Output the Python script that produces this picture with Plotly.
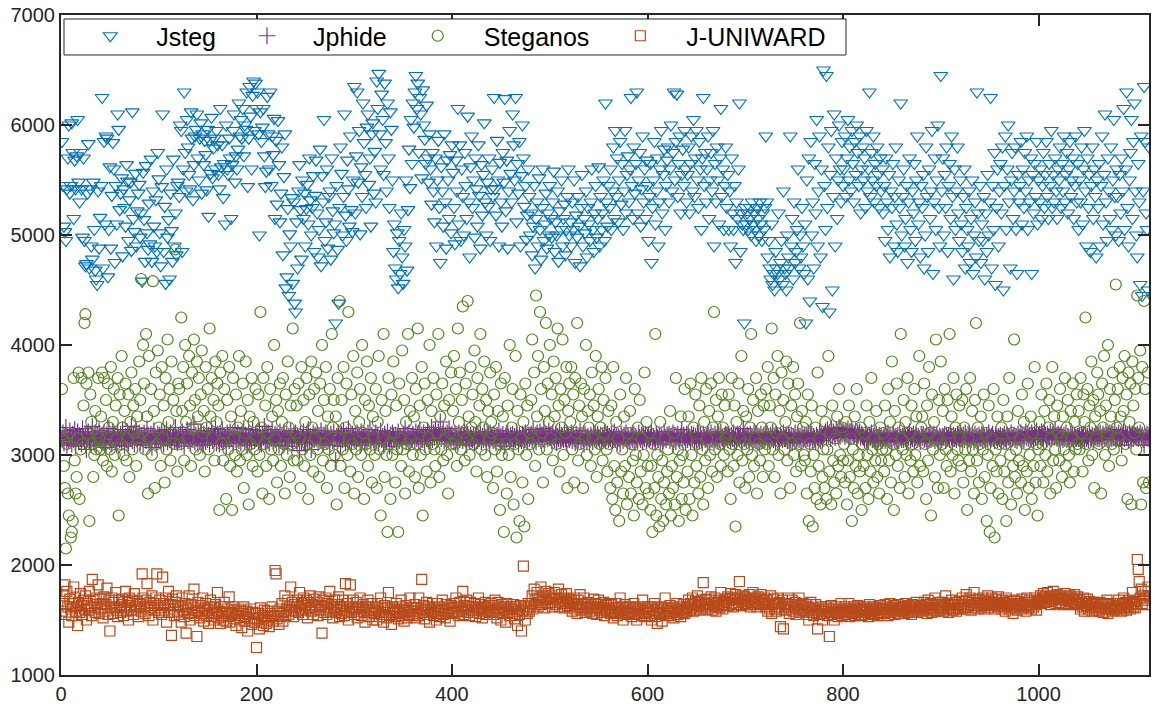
import plotly.graph_objects as go

# Values read (estimated) from the reference picture, one per image index
jsteg = [
5850,5450,5080,5030,4950,5420,5700,6000,5380,5450,6020,5750,5150,5680,5420,5720,6050,5480,5300,5750,
5420,4980,5700,4950,4720,4740,5380,5830,4700,5420,4900,4780,5480,5050,4680,4600,4550,5400,4880,5160,
5450,6250,4700,5850,5100,5900,5880,4620,5050,5620,4880,5360,5840,5600,4750,5450,5100,6100,5960,5230,
5380,5520,4810,5420,5250,5080,5640,5490,4950,5320,5480,4860,6120,5150,5030,5560,4900,5220,5380,5460,
4980,5200,4580,5570,5140,4760,5630,5020,4870,5290,4920,5690,4760,5400,5080,4900,5320,4850,5750,5510,
5020,4720,5440,6100,4850,5260,4560,5600,4980,5140,4600,5380,5040,4760,5690,4900,5200,4820,5450,5480,
5350,6000,5950,4850,5600,6300,5750,5400,6050,5800,5550,5420,6120,5880,5320,5640,5900,5960,6100,5700,
5500,5880,6020,5380,5920,5640,5860,5730,5410,5960,5170,5860,5560,6070,5520,5790,5880,5600,5950,5820,
5550,5420,6150,5620,5820,5340,5650,5100,6000,5600,5550,5880,5700,5150,5640,5950,6100,5480,5720,5600,
5780,6200,5900,6050,5880,6150,5720,6000,5960,6300,5440,5880,6350,6080,5600,6270,6400,5950,6380,6150,
6300,5920,5000,6120,5850,5980,6150,5720,5440,5580,6260,5920,5600,6300,5450,5900,5730,6060,5150,5860,
5280,6040,5640,5120,5380,5800,4820,5530,5920,4520,4620,5240,4450,5010,4900,5340,4560,5300,4380,4300,
5120,4700,5400,5640,5230,4780,5500,5150,5380,4900,5240,5460,5100,5700,5320,5000,5250,5540,4850,5360,
5680,5200,4800,5050,5780,4720,5540,5300,6050,4950,5120,5600,4880,5350,5400,4780,5700,5220,5020,5100,
4200,5450,4870,4380,5250,5800,5560,5000,5350,6100,5180,4950,5680,5420,5080,5900,5230,5030,5500,6350,
5200,5720,6300,5480,5950,5010,5620,5350,6200,5840,5550,5250,5980,6100,5460,5700,5080,5920,6020,5380,
5760,5300,6400,6150,6470,5920,5600,6280,6050,5550,6380,5840,5400,6200,5700,5250,6120,5960,5500,4850,
5100,4700,4600,5020,4520,4950,4650,5200,4800,4560,5050,4900,5500,4680,5230,5780,5430,6050,5650,6200,
5980,6300,6450,6150,6380,5750,6250,6100,5520,6320,6000,5870,5650,6180,5700,5480,5920,5600,5280,5750,
5400,5120,5700,4900,5500,5860,5250,4750,5620,5400,5080,5920,5300,4880,5680,5500,5150,5730,5020,5820,
5570,5250,4920,5680,5400,6150,5100,5820,4950,5600,5350,5000,5750,5450,5150,6080,5300,4800,5620,5900,
5250,5500,4980,5700,5420,5080,5820,5360,4880,5640,5180,5550,6020,5300,5000,5480,5260,5700,4950,5420,
5600,5350,6250,5420,5180,5860,5500,4900,5660,5300,5080,5750,5480,6240,5220,5680,4880,5400,5950,5560,
5300,6100,5820,5500,6250,5120,5650,5380,5850,4900,5540,6000,5700,5260,5450,4960,5180,5600,5350,5000,
5200,4820,5080,5450,4700,5150,5300,4900,5520,5050,4780,5250,5600,4950,5100,5380,4880,5200,5000,5450,
5150,4980,5300,5580,4850,5120,5000,5400,4760,5220,5050,5500,4900,5150,5280,4820,5050,5350,5600,5000,
5120,4900,5300,5050,5500,4750,5180,4980,5350,5080,4720,5250,5550,4900,5150,5020,5400,4800,5250,5100,
4950,5300,5600,5050,4850,5200,5450,4980,5150,5620,4900,5350,5050,5200,5500,4950,6200,5300,5080,5450,
5250,5600,5050,5400,5800,5150,5950,5350,5700,5120,5500,5850,5280,5650,5050,5400,5950,5200,5550,5720,
5300,5600,6250,5450,5150,5800,5380,5650,6300,5200,5500,5750,5080,5420,5900,5300,5600,5150,5680,5450,
4950,5350,5650,4750,5250,5500,5850,5100,5400,5700,4900,5300,5600,5950,5200,5550,5780,5050,5450,5680,
5800,5300,5600,6000,5400,5750,6300,5500,5850,6280,5350,5650,5900,5200,5550,5780,5450,5950,5600,5300,
5550,5800,5200,5650,5900,5400,6050,5350,5700,5950,5500,5250,5850,5600,5050,5700,6250,5450,5750,5300,
5600,5900,5150,5500,5750,5400,5950,4900,5650,5300,5800,5500,5100,5700,6150,5350,5600,5050,5450,5800,
5250,5550,5050,5400,4900,5700,5200,5050,5450,4750,5300,5150,5600,6200,4850,5200,5100,5050,4200,5250,
5100,5200,5050,5150,5250,5000,5300,5100,5200,5050,4950,5250,5150,5000,5300,5100,4950,5200,5050,5250,
5900,5300,4800,4950,4700,4600,5100,4550,4650,4500,4850,4700,4650,5200,4600,4750,4950,4550,5400,4700,
4650,4500,5000,4800,4700,5900,4900,5150,4600,5300,4750,4850,5050,5600,4700,5000,4800,5250,4900,4650,
5100,4200,5500,4600,5700,4400,5850,5000,5300,4700,5650,5200,6050,4900,5400,5900,4800,5600,4350,6500,
5450,5050,6450,5250,5800,4300,5550,5950,4500,5350,6100,4900,5700,5150,5500,6000,5600,5300,5850,5450,
5600,5900,5350,5700,6050,5500,5800,5400,5950,5650,5300,5850,5550,6000,5750,5450,5900,5200,5600,5800,
5500,5700,5250,5950,5400,5600,6300,5350,5750,5500,5900,5300,5650,5450,5800,5550,5250,5700,5400,5600,
5200,5450,4950,5700,5300,5050,5550,4800,5400,5250,5650,4900,5350,5800,5100,4850,5500,5250,6200,5000,
5350,5600,4900,5150,5450,4750,5300,5700,5050,4850,5400,5200,5650,4950,5500,5900,5100,5300,4800,5450,
5250,5550,4700,5000,5800,5350,4850,5600,5150,5400,5950,4650,5300,5700,5050,5500,6000,5250,4900,6450,
5400,5700,5000,5550,5250,5800,4850,5450,5650,5150,5900,5350,4600,5600,5050,5400,5800,5200,4950,5500,
5100,4850,5350,5600,4700,5250,5050,4900,5400,4750,5150,5500,4650,5000,5300,4800,6300,5200,4950,5450,
4750,5100,4950,5350,4600,5200,4850,5550,5000,5300,6250,4700,5450,5050,5750,4550,5250,5600,4900,5400,
5650,5200,5800,4500,5450,5900,5050,5600,6000,5300,4700,5500,5750,5150,5400,5800,5050,4650,5550,5300,
5450,5850,5100,5600,5250,5750,5400,5900,5050,5500,5300,5700,4650,5550,5200,5650,5350,5850,5100,5500,
5300,5600,5150,5450,5750,5250,5550,5850,5350,5150,5650,5450,5950,5250,5550,5300,5700,5400,5150,5600,
5500,5800,5250,5650,5400,5900,5300,5550,5750,5200,5600,5850,5350,5500,5700,5150,5450,5900,5300,5650,
5050,5500,5300,5800,5100,5600,5950,5400,4900,5700,5250,5550,4850,5450,5800,5150,5600,5350,4800,5500,
5250,5650,4900,5450,5900,5100,5550,6100,5300,4950,5700,5400,5150,5800,5050,5500,6050,5350,5000,5600,
5350,4950,5550,5200,5700,5400,6150,5050,5600,6300,5250,4900,5500,5750,6050,5150,5850,6200,5400,5000,
4800,5650,5300,4550,5900,4450,5400,6350,5850,5200,5050,4500,5800,
]

jphide = [
3150,3200,3110,3180,3250,3090,3160,3130,3220,3170,3100,3190,3140,3230,3080,3160,3210,3120,3175,3150,
3100,3240,3160,3130,3190,3050,3170,3210,3140,3100,3180,3260,3120,3150,3200,3090,3170,3140,3220,3160,
3130,3180,3110,3200,3150,3070,3190,3160,3240,3120,3170,3100,3210,3150,3180,3130,3090,3200,3160,3140,
3190,3120,3230,3160,3080,3170,3140,3210,3110,3180,3150,3260,3130,3190,3100,3170,3220,3140,3160,3200,
3120,3170,3150,3090,3200,3160,3130,3240,3180,3110,3150,3190,3070,3170,3220,3140,3160,3100,3190,3150,
3180,3130,3210,3160,3100,3190,3150,3230,3120,3170,3140,3200,3090,3160,3180,3130,3250,3150,3110,3170,
3140,3190,3120,3210,3160,3080,3180,3150,3230,3130,3170,3110,3200,3160,3140,3280,3120,3180,3150,3100,
3170,3130,3200,3150,3090,3190,3160,3120,3220,3140,3180,3100,3160,3210,3130,3170,3150,3240,3110,3190,
3160,3100,3190,3140,3230,3120,3170,3150,3080,3200,3160,3130,3210,3150,3180,3110,3170,3250,3140,3160,
3200,3130,3170,3110,3190,3150,3240,3120,3180,3160,3090,3200,3140,3170,3120,3230,3160,3130,3190,3150,
3170,3120,3220,3150,3100,3190,3160,3260,3130,3180,3140,3200,3110,3170,3150,3230,3120,3160,3190,3140,
3180,3150,3090,3210,3140,3170,3120,3200,3160,3130,3190,3080,3170,3150,3220,3140,3110,3180,3160,3200,
3130,3170,3150,3040,3190,3120,3160,3210,3140,3100,3180,3150,3230,3120,3170,3050,3160,3200,3140,3180,
3150,3190,3110,3170,3130,3220,3160,3100,3180,3140,3200,3120,3170,3150,3090,3190,3160,3130,3210,3150,
2950,3170,3130,3200,3150,3080,3190,3140,3220,3160,3110,3180,3150,3240,3130,3170,3100,3190,3160,3140,
3180,3120,3200,3150,3170,3090,3210,3140,3160,3190,3130,3170,3110,3200,3150,3230,3120,3180,3160,3140,
3160,3200,3130,3180,3110,3150,3220,3140,3170,3100,3190,3160,3130,3210,3150,3080,3180,3140,3200,3170,
3140,3180,3120,3160,3210,3130,3170,3150,3100,3190,3160,3240,3120,3180,3150,3200,3110,3170,3140,3190,
3170,3130,3210,3150,3190,3120,3230,3160,3180,3140,3200,3100,3170,3150,3220,3130,3190,3160,3250,3140,
3200,3160,3230,3180,3140,3210,3170,3300,3150,3190,3220,3130,3180,3160,3200,3140,3240,3170,3150,3190,
3160,3120,3190,3150,3170,3100,3200,3140,3160,3180,3130,3170,3210,3150,3090,3190,3160,3130,3180,3150,
3140,3180,3110,3170,3200,3130,3160,3150,3190,3120,3170,3140,3210,3160,3100,3180,3150,3130,3200,3160,
3170,3130,3190,3150,3110,3180,3160,3220,3140,3170,3120,3190,3150,3080,3170,3140,3200,3160,3130,3180,
3150,3190,3120,3170,3140,3210,3160,3100,3180,3150,3130,3190,3170,3140,3200,3160,3120,3180,3150,3170,
3190,3140,3230,3160,3180,3120,3200,3170,3150,3210,3130,3180,3160,3240,3140,3190,3170,3150,3220,3160,
3180,3130,3200,3160,3140,3190,3110,3170,3150,3210,3130,3180,3160,3140,3200,3150,3120,3190,3170,3140,
3160,3200,3130,3180,3150,3110,3190,3160,3140,3170,3220,3130,3180,3150,3100,3190,3160,3130,3170,3150,
3140,3180,3160,3120,3200,3150,3170,3130,3190,3160,3140,3180,3110,3170,3150,3200,3130,3160,3190,3140,
3170,3150,3190,3130,3160,3210,3140,3180,3120,3170,3150,3100,3190,3160,3130,3180,3150,3200,3140,3170,
3150,3120,3180,3160,3140,3190,3110,3170,3150,3130,3200,3160,3140,3180,3120,3170,3150,3190,3130,3160,
3180,3140,3160,3200,3130,3170,3150,3120,3190,3160,3140,3180,3100,3170,3150,3130,3210,3160,3140,3180,
3160,3190,3130,3170,3150,3200,3140,3180,3120,3160,3190,3150,3130,3170,3230,3140,3180,3160,3120,3190,
3140,3170,3160,3130,3190,3150,3180,3120,3170,3140,3200,3160,3130,3180,3150,3110,3190,3160,3140,3170,
3150,3180,3130,3160,3200,3140,3170,3120,3190,3150,3160,3130,3180,3140,3210,3160,3150,3120,3170,3190,
3170,3140,3190,3160,3130,3180,3150,3200,3140,3170,3120,3190,3160,3150,3180,3130,3170,3240,3150,3160,
3140,3180,3160,3120,3190,3150,3170,3130,3200,3160,3140,3180,3110,3170,3150,3190,3130,3160,3180,3140,
3160,3190,3140,3170,3130,3180,3150,3210,3140,3160,3120,3190,3170,3150,3130,3180,3160,3140,3200,3150,
3150,3170,3130,3190,3160,3140,3180,3110,3170,3150,3200,3130,3160,3180,3140,3170,3120,3190,3150,3160,
3180,3140,3170,3150,3200,3130,3160,3190,3140,3170,3150,3120,3180,3160,3140,3200,3130,3170,3150,3180,
3190,3210,3160,3230,3180,3200,3150,3240,3170,3210,3190,3160,3230,3200,3180,3250,3170,3210,3190,3220,
3200,3170,3220,3190,3240,3160,3210,3180,3230,3200,3170,3190,3220,3150,3200,3180,3210,3160,3190,3170,
3160,3140,3190,3150,3170,3130,3180,3160,3200,3140,3170,3150,3120,3190,3160,3140,3180,3150,3170,3130,
3150,3180,3130,3170,3160,3200,3140,3180,3150,3120,3190,3160,3140,3170,3150,3180,3130,3200,3160,3140,
3170,3140,3190,3150,3130,3180,3160,3210,3140,3170,3150,3190,3130,3160,3180,3140,3170,3150,3120,3190,
3160,3190,3140,3170,3150,3130,3180,3160,3200,3140,3170,3150,3190,3130,3160,3180,3150,3140,3170,3160,
3140,3170,3160,3190,3130,3180,3150,3170,3140,3200,3160,3130,3180,3150,3170,3140,3190,3160,3150,3180,
3170,3150,3180,3140,3200,3160,3130,3190,3150,3170,3140,3180,3160,3120,3190,3150,3170,3140,3180,3160,
3150,3190,3140,3170,3160,3130,3180,3150,3200,3160,3140,3170,3190,3150,3130,3180,3160,3140,3170,3150,
3180,3140,3170,3160,3190,3150,3130,3180,3160,3170,3140,3200,3150,3160,3180,3140,3170,3130,3190,3160,
3160,3200,3150,3180,3140,3170,3210,3160,3190,3150,3180,3140,3200,3170,3150,3190,3160,3220,3140,3180,
3190,3160,3210,3170,3150,3200,3180,3140,3190,3170,3160,3210,3150,3180,3200,3160,3230,3170,3150,3190,
3170,3150,3190,3160,3140,3180,3150,3200,3140,3170,3160,3130,3190,3150,3170,3140,3180,3160,3150,3170,
3150,3180,3140,3170,3160,3190,3130,3180,3150,3170,3140,3200,3160,3150,3180,3130,3170,3160,3190,3150,
3180,3150,3200,3160,3140,3190,3170,3150,3210,3160,3180,3140,3200,3170,3150,3190,3160,3230,3150,3180,
3160,3200,3150,3180,3090,3170,3210,3150,3190,3160,3180,3140,3200,3170,3160,3190,3150,3180,3170,3160,
3190,3150,3170,3200,3160,3180,3140,3090,3170,3160,3190,3150,3180,
]

steganos = [
3600,3150,2900,2700,2150,3100,2650,2450,3200,2250,2300,2400,3700,2950,2650,2800,3150,3750,2600,3050,
3700,3100,3450,4200,4280,3650,3200,3750,2400,3550,3300,3100,2800,3000,3400,3050,3200,3700,3150,3050,
3350,3750,2950,3700,3100,3500,2900,3650,3250,3050,3800,2850,3300,3600,3000,3450,3150,3700,2450,3550,
3100,3900,3250,3000,3400,3650,2950,3150,3550,2800,3300,3750,3050,3450,3200,3600,2900,3350,3150,3850,
3500,4600,3200,4000,3650,3050,4100,3350,2650,3900,3150,3600,3000,4580,3400,2700,3750,3100,3950,3250,
3550,2900,3800,3150,3450,2750,3700,3050,4050,3300,3600,2950,3850,3200,3500,3100,4870,3400,2850,3650,
3600,3100,4250,3400,3800,2950,4000,3300,3650,3150,3900,3450,2900,3750,3250,4050,3500,3050,3850,3350,
3700,3000,3550,3950,3200,3400,2850,3800,3250,3600,3050,4150,3350,3700,3150,3500,2950,3850,3300,3650,
3450,2500,3750,3100,3900,2950,3600,3200,2600,3500,3050,3800,2900,3350,2500,3700,3150,3000,3550,2850,
3250,3900,2950,3400,3050,3650,2700,3200,3850,3000,3500,2550,3350,3100,3700,2900,3300,3050,3600,3150,
2850,3550,3000,4300,3250,2650,3700,3100,3450,2900,3800,3200,2600,3600,3050,3350,2950,4000,3150,3500,
2750,3400,3050,3650,2900,3300,3700,3100,2650,3550,3000,3850,3250,2800,3450,3100,4150,2950,3600,3200,
3450,2950,3650,3150,2700,3800,3050,3500,2900,3300,3700,3100,2600,3550,3000,3850,3250,2850,3600,3150,
3750,3050,3400,2800,3650,3200,4000,2950,3500,3100,3800,2700,3350,3050,3600,2900,4100,3250,3500,3000,
3350,2550,3700,3150,4400,2900,3500,3050,3800,2700,3250,3650,3000,4300,3150,2850,3550,3100,3900,2650,
3400,3050,3750,2800,3300,3600,3000,4000,3200,2600,3500,3100,3850,2900,3450,3050,3700,2750,3350,3150,
3000,3600,2700,3300,3900,3050,2450,3500,3150,4100,2800,3400,3000,2300,3700,3100,2600,3550,3000,3850,
3200,2750,3450,3050,2300,3650,3150,2900,3950,3050,3500,2650,3300,3100,4100,2850,3400,3150,3700,3000,
3350,2800,3600,3100,4150,2700,3450,3000,3800,2450,3250,3650,3050,2850,3500,3150,4000,2750,3400,3100,
3700,3050,2900,3550,3200,4100,2800,3350,3050,3650,2950,3450,3150,3850,3000,2650,3500,3200,3750,3100,
3400,3900,3100,3600,2900,4150,3300,3750,3050,3500,4350,3200,2950,3650,3150,4400,3350,3000,3800,3250,
3550,3100,3950,3300,2850,3700,3150,3450,4100,3050,3600,3250,3850,3000,3500,2800,3400,3150,3750,3300,
3200,2700,3550,3050,3800,2850,3400,3100,2500,3650,3000,3350,2300,3700,3100,2650,3450,3000,4000,2800,
3250,3600,2550,3100,3900,2250,3400,3050,2400,3550,3150,2750,3300,2350,3650,3000,3450,2600,3200,3100,
3500,4050,3150,3750,2900,4450,3350,3900,3050,4300,3600,3200,2750,3800,3400,4200,3050,3650,3300,4000,
3150,3550,2950,3850,3350,3700,3100,4150,3450,2850,3600,3250,4050,3000,3500,3200,3800,2700,3400,3650,
3300,3800,3050,3550,2750,3700,3200,4200,2950,3450,3100,3650,3350,2700,3600,3150,4000,3000,3400,3250,
3550,2900,3750,3150,3450,3050,3900,2800,3350,3600,3100,3250,3800,2950,3500,3200,3700,3050,2850,3400,
3100,2700,3450,2600,3800,2900,2500,3300,2750,3150,2400,3550,2850,3050,2650,3350,2900,3700,2550,3200,
2800,3400,2650,3100,2950,2450,3600,3000,2750,3250,2600,3500,2850,3150,2550,3000,3750,2700,3300,2900,
2650,3200,2500,2900,2300,3100,2700,4100,2450,3000,2800,2350,3300,2600,2950,2400,2750,3150,2550,2850,
3050,2650,3400,2450,2900,2700,3200,2550,3700,2800,3050,2400,2950,3350,2600,3000,2750,3600,2500,3150,
2850,3350,2600,3650,3000,2450,3250,2750,3550,2900,3100,2650,3450,2800,3700,3050,2550,3300,2950,3600,
3150,2700,3400,3000,3650,2850,3250,4300,3050,3500,2800,3350,3700,3100,2900,3550,3250,3000,3450,3150,
3200,2850,3550,3050,2600,3700,3100,2900,3450,2350,3300,3000,3650,2750,3150,3900,2950,3400,3100,2700,
3350,3050,3600,2800,3250,4100,3000,3500,2900,3150,3700,2650,3400,3100,2950,3550,3250,2800,3450,3050,
3600,3100,3800,2900,3450,3250,4150,3050,3700,2800,3550,3200,3900,3000,3400,2650,3750,3150,3500,3050,
3300,3850,2950,3650,3200,2700,3450,3100,3800,3000,3550,2850,3350,3650,3100,4200,2900,3400,3250,3000,
2950,3300,2650,3550,2400,3100,2850,3450,2350,3000,2700,3250,2600,3750,2900,3150,2550,3400,2800,3050,
2700,3300,2600,3050,3900,2850,3200,2550,3450,2950,2750,3150,2650,3350,2900,3600,3000,2800,3250,2950,
3100,2750,3300,2550,2950,3450,2800,3150,2400,3050,2700,3350,2900,3600,2650,3000,2850,3250,2500,3100,
2900,3200,2700,3450,3000,2600,3300,2850,3700,3050,2750,3150,2950,3400,2800,3100,2650,3250,2950,3050,
3200,2850,3450,3050,2600,3600,2950,3300,2750,3850,3100,2500,3400,3000,3650,2900,3250,2700,4100,3150,
3050,3500,2800,3300,3000,3700,2650,3200,2950,3450,3100,2850,3600,3000,3350,2750,3150,3900,2900,3250,
3350,2850,3650,3100,2600,3450,2950,3800,3200,2450,3550,3050,3300,2800,4050,3150,2700,3500,3000,3850,
3100,3400,2700,3600,3050,2900,3500,3200,4100,2850,3350,3000,3700,2650,3250,3550,3050,2950,3450,3150,
2900,3500,2750,3250,3050,3600,2500,3150,2950,3700,2850,3400,3050,2650,3500,4200,2950,3250,2750,3100,
3350,2600,3050,3550,2800,3200,2400,3000,3450,2300,2700,3150,2900,3600,2250,3050,2850,3350,2650,3100,
2950,3250,2600,3500,2850,3100,2400,3350,2750,3700,3000,2550,3200,2900,4050,2800,3050,2650,3400,2950,
3150,2750,3550,2900,3300,2500,3100,2850,3650,2700,3000,3350,2600,3200,2900,3800,2750,3100,2450,3050,
3300,2900,3550,3100,2750,3400,3000,3650,2850,3250,3500,2650,3150,3800,2950,3350,3050,2700,3450,3200,
2950,3600,3150,2800,3350,3050,3700,2900,3250,3500,3000,2750,3400,3150,3650,2850,3300,3050,3550,3100,
3400,3050,3700,3200,2850,3550,3300,4250,3100,3600,2950,3450,3250,3850,3000,3500,2700,3350,3150,3750,
3550,3100,3400,2650,3650,3250,3900,3000,3450,3200,4000,2900,3600,3350,3100,3750,3050,3500,4550,3250,
3600,3150,3800,3350,2950,3700,3400,3900,3100,3550,2600,3750,3300,3650,2550,3850,3450,3200,3600,3050,
4450,3700,3250,3950,2550,3800,2750,4400,3600,2700,3150,3750,2750,
]

juniward = [
1580,1720,1650,1820,1550,1760,1620,1480,1690,1600,1540,1650,1800,1700,1580,1620,1450,1660,1570,1740,
1630,1550,1680,1600,1720,1500,1650,1590,1760,1610,1540,1870,1680,1620,1570,1700,1640,1820,1560,1690,
1600,1650,1520,1710,1580,1640,1790,1550,1680,1400,1620,1700,1560,1660,1610,1750,1590,1530,1680,1620,
1570,1640,1690,1540,1610,1760,1580,1660,1500,1700,1630,1590,1680,1550,1740,1620,1600,1670,1530,1650,
1640,1580,1920,1700,1620,1560,1680,1830,1600,1540,1660,1610,1720,1500,1650,1590,1700,1920,1630,1570,
1680,1610,1550,1890,1650,1590,1700,1480,1630,1760,1570,1640,1360,1690,1600,1540,1660,1720,1580,1630,
1550,1620,1480,1700,1590,1530,1650,1380,1600,1560,1720,1500,1640,1570,1610,1780,1540,1590,1350,1660,
1580,1520,1630,1560,1700,1490,1600,1650,1540,1590,1470,1620,1680,1530,1570,1610,1500,1640,1560,1750,
1520,1580,1470,1620,1540,1500,1660,1560,1490,1600,1530,1710,1480,1570,1550,1620,1510,1590,1450,1560,
1540,1600,1500,1580,1430,1560,1620,1490,1530,1580,1400,1550,1510,1600,1460,1570,1520,1480,1560,1250,
1500,1560,1420,1610,1480,1540,1450,1590,1520,1470,1580,1500,1440,1560,1530,1620,1490,1540,1950,1920,
1510,1580,1460,1600,1530,1650,1490,1570,1720,1540,1600,1680,1550,1620,1800,1590,1660,1530,1640,1580,
1620,1680,1570,1750,1600,1650,1550,1700,1630,1590,1680,1520,1660,1610,1720,1580,1640,1550,1690,1620,
1600,1660,1540,1710,1590,1630,1380,1680,1570,1620,1700,1550,1650,1600,1760,1580,1640,1520,1610,1680,
1570,1640,1590,1710,1530,1620,1560,1680,1600,1540,1830,1580,1650,1500,1620,1820,1570,1610,1680,1550,
1600,1660,1520,1620,1580,1700,1540,1600,1640,1570,1480,1620,1590,1680,1530,1610,1570,1650,1500,1590,
1560,1620,1500,1650,1580,1530,1700,1550,1600,1480,1630,1570,1520,1610,1750,1540,1590,1460,1620,1570,
1600,1530,1650,1580,1510,1620,1560,1680,1540,1600,1490,1570,1630,1520,1590,1550,1700,1580,1610,1540,
1580,1640,1520,1610,1560,1700,1540,1600,1870,1570,1630,1510,1590,1660,1550,1620,1480,1600,1570,1650,
1540,1610,1580,1500,1650,1560,1620,1530,1590,1680,1550,1600,1520,1640,1580,1560,1610,1490,1630,1570,
1600,1650,1560,1700,1580,1620,1540,1660,1600,1580,1760,1550,1630,1600,1680,1570,1620,1540,1660,1590,
1620,1570,1650,1530,1610,1590,1700,1560,1640,1600,1520,1620,1580,1660,1550,1610,1590,1630,1570,1650,
1580,1630,1550,1680,1600,1520,1660,1570,1610,1500,1640,1560,1620,1590,1480,1650,1570,1600,1540,1620,
1600,1560,1640,1510,1620,1580,1450,1600,1550,1630,1400,1580,1990,1620,1500,1600,1560,1650,1580,1620,
1650,1720,1600,1780,1680,1640,1750,1620,1700,1660,1800,1640,1720,1680,1610,1760,1690,1650,1740,1700,
1660,1720,1620,1690,1750,1640,1700,1660,1780,1620,1680,1730,1650,1700,1610,1670,1740,1630,1690,1660,
1620,1680,1580,1650,1700,1600,1640,1560,1680,1620,1730,1590,1650,1610,1700,1570,1640,1600,1660,1620,
1580,1640,1600,1560,1690,1610,1650,1550,1620,1680,1590,1640,1570,1610,1660,1540,1600,1630,1580,1650,
1600,1560,1640,1580,1520,1610,1570,1650,1540,1600,1580,1700,1560,1620,1500,1590,1640,1550,1610,1570,
1560,1620,1580,1530,1600,1650,1550,1610,1500,1580,1620,1560,1600,1540,1680,1570,1530,1600,1560,1620,
1580,1540,1620,1500,1600,1560,1650,1530,1590,1470,1610,1570,1550,1620,1490,1600,1560,1700,1540,1580,
1600,1560,1630,1540,1580,1610,1520,1600,1570,1650,1550,1590,1620,1530,1600,1570,1640,1560,1600,1580,
1620,1680,1590,1650,1610,1700,1580,1640,1670,1600,1720,1630,1660,1590,1680,1620,1840,1650,1600,1690,
1640,1600,1680,1620,1710,1590,1660,1630,1700,1580,1650,1620,1680,1610,1750,1640,1600,1670,1630,1690,
1660,1710,1630,1690,1740,1650,1700,1620,1680,1730,1640,1700,1660,1850,1690,1630,1720,1670,1710,1650,
1700,1640,1680,1730,1620,1690,1660,1750,1640,1700,1670,1620,1710,1650,1690,1730,1640,1680,1660,1700,
1620,1680,1580,1650,1600,1720,1560,1640,1690,1600,1650,1580,1700,1620,1660,1440,1600,1680,1420,1640,
1590,1650,1620,1700,1560,1640,1600,1680,1580,1620,1660,1550,1640,1600,1700,1570,1630,1590,1650,1610,
1580,1640,1550,1620,1500,1600,1660,1570,1610,1540,1590,1640,1560,1420,1600,1550,1620,1580,1500,1600,
1560,1620,1580,1540,1600,1350,1570,1630,1550,1600,1500,1580,1620,1560,1530,1600,1570,1650,1540,1590,
1580,1620,1550,1600,1570,1650,1530,1600,1580,1560,1620,1540,1600,1570,1630,1550,1590,1610,1540,1600,
1570,1620,1550,1600,1580,1530,1640,1560,1600,1580,1620,1550,1590,1610,1540,1600,1570,1630,1560,1600,
1600,1560,1640,1580,1620,1540,1600,1650,1570,1610,1590,1630,1550,1600,1580,1640,1560,1610,1590,1620,
1580,1620,1560,1650,1600,1570,1630,1590,1610,1550,1640,1580,1620,1600,1660,1570,1610,1590,1630,1600,
1620,1580,1660,1600,1640,1560,1680,1610,1590,1650,1570,1630,1600,1700,1580,1640,1610,1660,1590,1620,
1600,1660,1580,1640,1720,1600,1650,1570,1630,1610,1680,1590,1640,1600,1660,1580,1630,1610,1670,1600,
1640,1700,1610,1670,1600,1730,1620,1680,1640,1700,1590,1660,1630,1750,1610,1680,1650,1600,1690,1630,
1660,1620,1700,1640,1600,1680,1650,1720,1610,1670,1630,1700,1640,1660,1600,1690,1640,1620,1710,1650,
1640,1600,1680,1620,1660,1580,1700,1630,1650,1600,1670,1620,1640,1560,1680,1610,1650,1590,1670,1630,
1650,1600,1690,1620,1640,1660,1580,1700,1630,1610,1680,1640,1600,1660,1620,1700,1640,1590,1670,1650,
1680,1720,1650,1700,1740,1660,1710,1690,1750,1670,1700,1640,1720,1680,1760,1690,1710,1650,1730,1700,
1660,1720,1690,1640,1700,1680,1740,1650,1710,1690,1670,1720,1640,1700,1680,1660,1730,1650,1690,1710,
1640,1680,1600,1660,1620,1700,1580,1650,1630,1690,1600,1670,1620,1640,1580,1660,1610,1650,1590,1640,
1620,1580,1660,1600,1640,1570,1650,1610,1600,1680,1560,1640,1600,1620,1580,1650,1610,1590,1630,1600,
1620,1680,1600,1650,1580,1640,1700,1610,1660,1590,1640,1620,1680,1600,1650,1750,1620,1670,1610,1640,
2050,1960,1850,1700,1780,1650,1720,1680,1760,1700,1640,1800,1720,
]

series_names = ["Jsteg", "Jphide", "Steganos", "J-UNIWARD"]
x_ticks = [0, 200, 400, 600, 800, 1000]
y_ticks = [1000, 2000, 3000, 4000, 5000, 6000, 7000]

FONT = "Liberation Sans, Arial, sans-serif"
AX = "#262626"

specs = [
    (jsteg, series_names[0], "#0072BD", "triangle-down-open", 12),
    (jphide, series_names[1], "#7E2F8E", "cross-thin-open", 12),
    (steganos, series_names[2], "#4F8516", "circle-open", 11),
    (juniward, series_names[3], "#B84A1A", "square-open", 10),
]

fig = go.Figure()
for vals, name, color, sym, size in specs:
    fig.add_trace(go.Scatter(
        x=list(range(1, len(vals) + 1)), y=vals, mode="markers", name=name,
        marker=dict(symbol=sym, size=size, color=color, line=dict(color=color, width=1.2)),
    ))

axis_common = dict(
    showgrid=False, zeroline=False, showline=True, linecolor=AX, linewidth=2,
    mirror="ticks", ticks="inside", ticklen=11, tickwidth=2, tickcolor=AX,
    tickfont=dict(family=FONT, size=20, color=AX), automargin=False,
)
fig.update_xaxes(range=[0, 1113], tickvals=x_ticks, **axis_common)
fig.update_yaxes(range=[1000, 7000], tickvals=y_ticks, **axis_common)

# legend frame (white box with thin border) drawn as a shape behind the legend text
fig.add_shape(type="rect", xref="paper", yref="paper",
              x0=0.00276, x1=0.7215, y0=0.9394, y1=0.99394,
              line=dict(color="#262626", width=1), fillcolor="white", layer="above")

fig.update_layout(
    width=1155, height=709, autosize=False,
    margin=dict(l=61, r=6, t=15, b=34),
    plot_bgcolor="white", paper_bgcolor="white",
    font=dict(family=FONT, color="#000000"),
    legend=dict(
        orientation="h", x=0.003, y=1.003, xanchor="left", yanchor="top",
        bgcolor="rgba(0,0,0,0)", borderwidth=0,
        font=dict(family=FONT, size=25, color="#000000"),
        itemwidth=82,
    ),
)

fig.write_html("out.html", config={"displayModeBar": False},
               post_script="document.body.style.margin='0px';")
